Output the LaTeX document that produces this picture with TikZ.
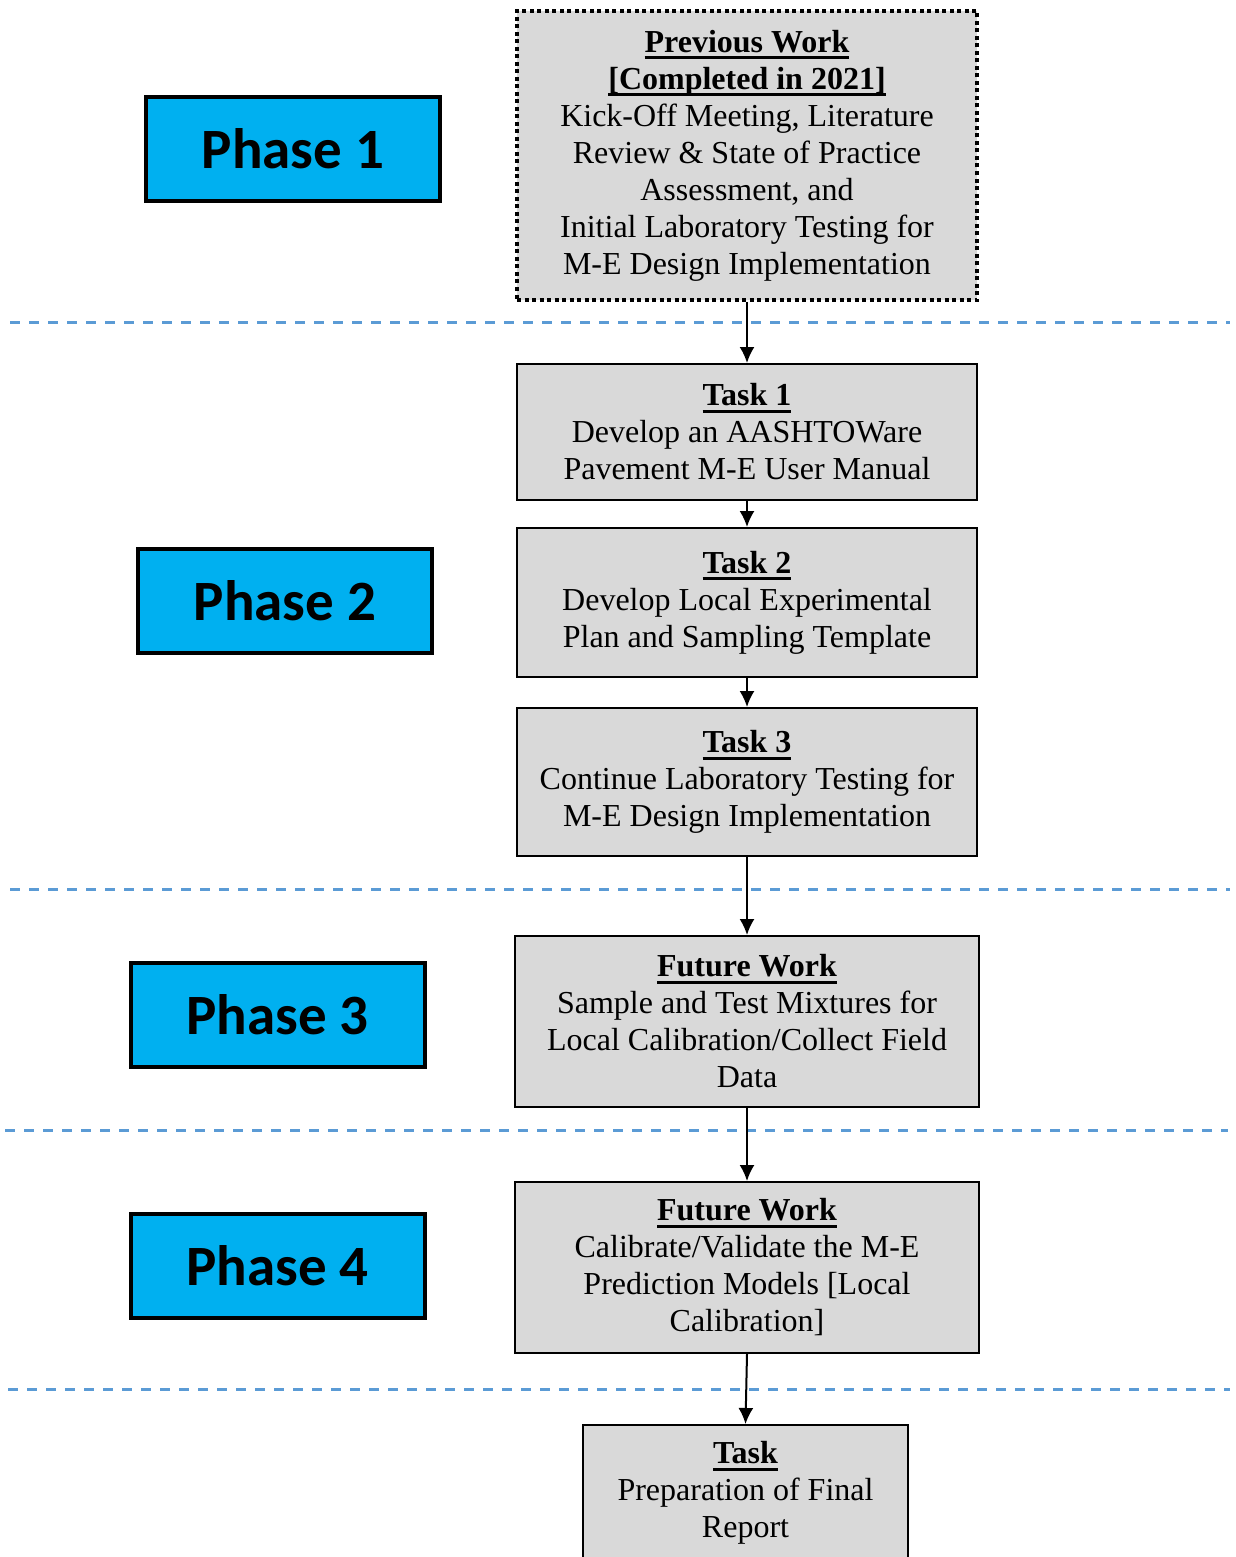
\documentclass[tikz,border=0pt]{standalone}
\usepackage{fontspec}
\setmainfont{Liberation Serif}
\newfontfamily\phasefont{Carlito}
\usetikzlibrary{positioning, arrows.meta}
\definecolor{PhaseBlue}{HTML}{00B0F0}
\definecolor{BoxGray}{HTML}{D9D9D9}
\definecolor{SplitBlue}{HTML}{5B9BD5}

% underlined bold heading inside a box
\newsavebox\headbox
\newcommand{\head}[1]{\sbox\headbox{\textbf{#1}}\rlap{\rule[-7pt]{\wd\headbox}{3pt}}\usebox\headbox}

\tikzset{
  taskbox/.style={draw, line width=2pt, fill=BoxGray, align=center, inner sep=0pt,
    font=\fontsize{32}{37}\selectfont},
  prevbox/.style={taskbox, line width=4pt, dash pattern=on 4pt off 3.5pt},
  phasebox/.style={draw, line width=4pt, fill=PhaseBlue, minimum width=294pt,
    minimum height=104pt, font=\phasefont\bfseries\fontsize{57}{62}\selectfont},
  flow/.style={-{Latex[length=16pt,width=15pt]}, line width=2pt},
  split/.style={SplitBlue, line width=3pt, dash pattern=on 10pt off 9pt}
}

\begin{document}
\begin{tikzpicture}[x=1pt, y=-1pt]
  \useasboundingbox (0,0) rectangle (1235,1557);
  % Phase separators (dashed blue lines)
  \draw[split] (10,322) -- (1230,322);
  \draw[split] (10,889) -- (1230,889);
  \draw[split] (5,1130) -- (1228,1130);
  \draw[split] (8,1389) -- (1230,1389);

  % Phase labels on the left
  \node[phasebox] (p1) at (293,149) {Phase 1};
  \node[phasebox] (p2) at (285,601) {Phase 2};
  \node[phasebox] (p3) at (277.5,1015) {Phase 3};
  \node[phasebox] (p4) at (277.5,1266) {Phase 4};

  % Work boxes on the right
  \node[prevbox, minimum width=460pt, minimum height=289pt] (prev) at (747,155.5)
    {\head{Previous Work}\\ \head{[Completed in 2021]}\\
     Kick-Off Meeting, Literature\\ Review \& State of Practice\\ Assessment, and\\
     Initial Laboratory Testing for\\ M-E Design Implementation};
  \node[taskbox, minimum width=460pt, minimum height=136pt] (t1) at (747,432)
    {\head{Task 1}\\ Develop an AASHTOWare\\ Pavement M-E User Manual};
  \node[taskbox, minimum width=460pt, minimum height=149pt] (t2) at (747,602.5)
    {\head{Task 2}\\ Develop Local Experimental\\ Plan and Sampling Template};
  \node[taskbox, minimum width=460pt, minimum height=148pt] (t3) at (747,782)
    {\head{Task 3}\\ Continue Laboratory Testing for\\ M-E Design Implementation};
  \node[taskbox, minimum width=464pt, minimum height=171pt] (fw1) at (747,1021.5)
    {\head{Future Work}\\ Sample and Test Mixtures for\\ Local Calibration/Collect Field\\ Data};
  \node[taskbox, minimum width=464pt, minimum height=171pt] (fw2) at (747,1267.5)
    {\head{Future Work}\\ Calibrate/Validate the M-E\\ Prediction Models [Local\\ Calibration]};
  \node[taskbox, minimum width=325pt, minimum height=136pt] (final) at (745.5,1493)
    {\head{Task}\\ Preparation of Final\\ Report};

  % Flow arrows
  \draw[flow] (prev.south) -- (t1.north);
  \draw[flow] (t1.south) -- (t2.north);
  \draw[flow] (t2.south) -- (t3.north);
  \draw[flow] (t3.south) -- (fw1.north);
  \draw[flow] (fw1.south) -- (fw2.north);
  \draw[flow] (fw2.south) -- (final.north);
\end{tikzpicture}
\end{document}
